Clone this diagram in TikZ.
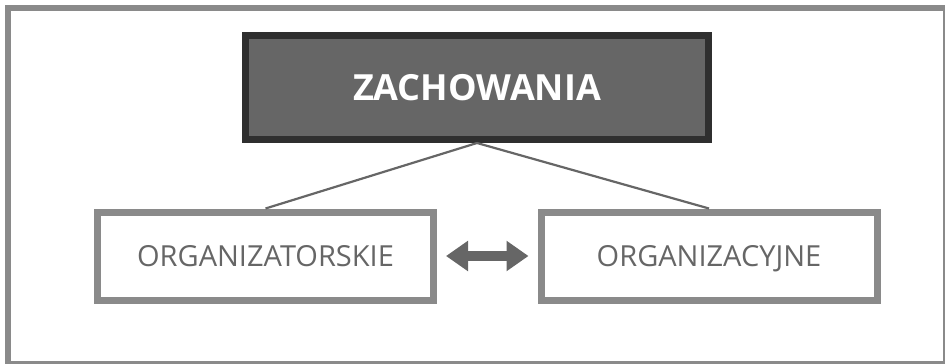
\documentclass[tikz,border=0pt]{standalone}
\usepackage{fontspec}
\usepackage{xcolor}
\usepackage{tikz}
\usetikzlibrary{arrows.meta, positioning, calc}
\newfontfamily\boxfont{Open Sans}
\definecolor{framegray}{HTML}{8A8A8A}
\definecolor{darkline}{HTML}{2F2F2F}
\definecolor{midgray}{HTML}{666666}
\tikzset{
  topbox/.style={draw=darkline, fill=midgray, line width=7pt, minimum width=463pt,
    minimum height=104pt, inner sep=0pt, text=white, font=\boxfont\bfseries\fontsize{36}{40}\selectfont},
  subbox/.style={draw=framegray, fill=white, line width=7pt, minimum width=336pt,
    minimum height=88pt, inner sep=0pt, text=midgray, text depth=0pt,
    font=\boxfont\fontsize{29}{34}\selectfont},
  link/.style={draw=midgray, line width=2.2pt},
  dblarrow/.style={draw=midgray, line width=10pt, shorten <=9pt, shorten >=9pt,
    {Triangle[length=22pt,width=29pt]}-{Triangle[length=22pt,width=29pt]}}
}

\begin{document}
\begin{tikzpicture}[x=1pt, y=-1pt]
  \useasboundingbox (0,0) rectangle (945,364);
  \draw[framegray, line width=6pt] (8,8) rectangle (946,364);
  \node[topbox] (zach) at (477,87.5) {ZACHOWANIA};
  \node[subbox] (org1) at (265.5,256) {ORGANIZATORSKIE};
  \node[subbox] (org2) at (709,256) {ORGANIZACYJNE};
  \draw[link] (zach.south) -- (org1.north);
  \draw[link] (zach.south) -- (org2.north);
  \draw[dblarrow] (org1.east) -- (org2.west);
\end{tikzpicture}
\end{document}
